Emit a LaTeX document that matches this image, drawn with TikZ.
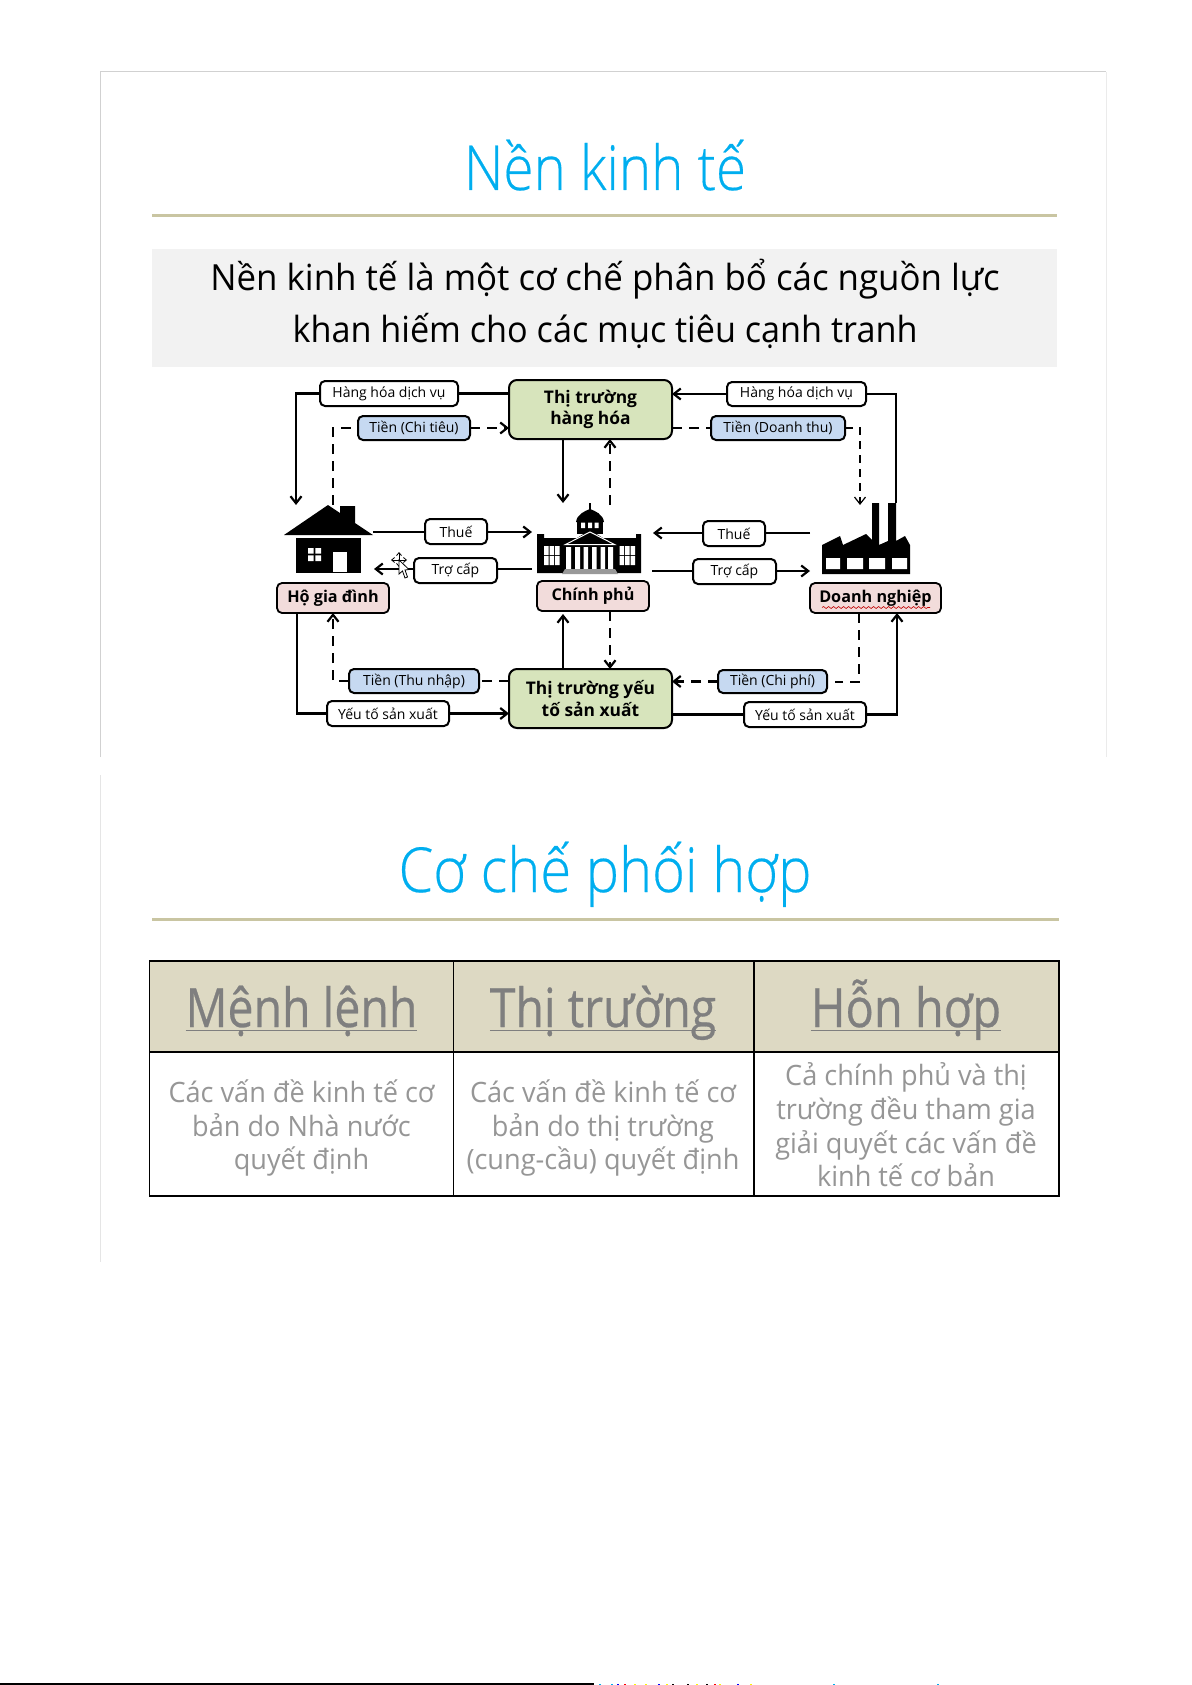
\documentclass[tikz,border=0pt]{standalone}
\usepackage{fontspec}
\usepackage{graphicx}
\setmainfont{Open Sans}
\newfontfamily\lightf[FakeBold=0.35]{Open Sans Light}
\newfontfamily\hfont[FakeBold=0.5]{Open Sans}
\usetikzlibrary{arrows.meta,decorations.pathmorphing}
\definecolor{titleblue}{HTML}{00AEEF}
\definecolor{rulec}{HTML}{C9C5A2}
\definecolor{boxgray}{HTML}{F2F2F2}
\definecolor{mkt}{HTML}{D7E4BC}
\definecolor{agent}{HTML}{F2DCDB}
\definecolor{money}{HTML}{C6D9F1}
\definecolor{thead}{HTML}{DDD9C3}
\definecolor{thtxt}{HTML}{7F7F7F}
\definecolor{tbtxt}{HTML}{969696}
\newcommand\fs[1]{\fontsize{#1}{1.2\dimexpr#1pt\relax}\selectfont}
\newcommand\sx[2]{\scalebox{#1}[1]{#2}}
\newcommand\dn[1]{\raisebox{-0.8pt}{#1}}
\newcommand\bx[7]{\node[#6,minimum width={(#4-#2)*0.5pt},minimum height={(#5-#3)*0.5pt}] (#1) at ({(#2+#4)/2},{(#3+#5)/2}) {#7};}
\newsavebox\ulb
\newcommand\ulin[1]{\sbox\ulb{#1}\rlap{\rule[-2.1pt]{\wd\ulb}{0.5pt}}\usebox\ulb}
\tikzset{
 base/.style={inner sep=0pt,outer sep=0pt,align=center},
 lab/.style={base,draw=black,line width=1pt,rounded corners=2.5pt,fill=white,font=\fs{7}},
 moneybox/.style={lab,fill=money},
 mktbox/.style={base,draw=black,line width=1pt,rounded corners=4pt,fill=mkt,font=\bfseries\fontsize{8.7}{10.9}\selectfont},
 agentbox/.style={base,draw=black,line width=0.9pt,rounded corners=2.5pt,fill=agent,font=\bfseries\fs{8.1}},
 icon/.style={base},
 hcell/.style={base,draw=black,line width=0.6pt,fill=thead},
 htext/.style={base,anchor=base,text=thtxt,font=\hfont\fs{27}},
 bcell/.style={base,draw=black,line width=0.6pt,fill=white},
 btext/.style={base,text=tbtxt,font=\fontsize{14}{16.8}\selectfont},
 solidc/.style={line width=1.1pt,-{Straight Barb[length=3.5pt,width=5.5pt]}},
 plainc/.style={line width=1.1pt},
 dashc/.style={line width=1.1pt,dash pattern=on 5pt off 3.5pt,-{Straight Barb[length=3.5pt,width=5.5pt]}},
 dashp/.style={line width=1.1pt,dash pattern=on 5pt off 3.5pt},
 ttl/.style={base,text=titleblue,anchor=base},
 slideline/.style={line width=0.5pt,draw=black!18},
}
\begin{document}
\begin{tikzpicture}[x=0.5pt,y=-0.5pt]
\useasboundingbox (0,0) rectangle (1191,1685);
% slide frames
\draw[slideline] (100,757) -- (100,72) -- (1106,72);
\draw[slideline,draw=black!8] (1106,72) -- (1106,757);
\draw[slideline,draw=black!10] (100,775) -- (100,1262);
% slide 1 head
\node[ttl,font=\lightf\fs{31}] (t1) at (605,190) {\sx{0.883}{Nền kinh tế}};
\draw[rulec,line width=1.5pt] (152,216) -- (1057,216);
\bx{def}{152}{249}{1057}{367}{base,fill=boxgray}{}
\node[base,font=\fontsize{18}{25.7}\selectfont] (defT) at (605,304) {\sx{0.968}{Nền kinh tế là một cơ chế phân bổ các nguồn lực}\\\sx{0.95}{khan hiếm cho các mục tiêu cạnh tranh}};
% nodes
\bx{mg}{509}{380}{672}{439}{mktbox}{Thị trường\\hàng hóa}
\bx{mf}{509}{669}{672}{728}{mktbox}{Thị trường yếu\\tố sản xuất}
\bx{hh}{277}{583}{389}{613}{agentbox}{\dn{Hộ gia đình}}
\bx{gov}{537}{581}{649}{611}{agentbox}{\dn{Chính phủ}}
\bx{firm}{810}{583}{941}{613}{agentbox}{\dn{Doanh nghiệp}}
\bx{ghL}{320}{381}{458}{406}{lab}{Hàng hóa dịch vụ}
\bx{ghR}{727}{382}{866}{406}{lab}{Hàng hóa dịch vụ}
\bx{mCT}{358}{416}{470}{440}{moneybox}{Tiền (Chi tiêu)}
\bx{mDT}{711}{416}{845}{440}{moneybox}{Tiền (Doanh thu)}
\bx{taxL}{425}{519}{487}{544}{lab}{Thuế}
\bx{taxR}{703}{521}{765}{546}{lab}{Thuế}
\bx{subL}{414}{558}{497}{583}{lab}{Trợ cấp}
\bx{subR}{693}{559}{776}{584}{lab}{Trợ cấp}
\bx{mTN}{349}{669}{479}{693}{moneybox}{\dn{Tiền (Thu nhập)}}
\bx{mCP}{718}{670}{827}{693}{moneybox}{\dn{Tiền (Chi phí)}}
\bx{yL}{327}{701}{449}{726}{lab}{Yếu tố sản xuất}
\bx{yR}{744}{702}{866}{727}{lab}{Yếu tố sản xuất}
\bx{house}{284}{505}{373}{573}{icon}{}
\bx{bld}{538}{503}{641}{573}{icon}{}
\bx{fac}{822}{503}{910}{574}{icon}{}
% free connector ends
\coordinate (hA) at (296,505);
\coordinate (hD) at (333,505);
\coordinate (hT) at (373,532);
\coordinate (hS) at (374,569);
\coordinate (bTL) at (532,532);
\coordinate (bSL) at (532,569);
\coordinate (bTR) at (653,533);
\coordinate (bSR) at (652,571);
\coordinate (fT) at (810,533);
\coordinate (fS) at (810,571);
\coordinate (bG) at (563,503);
\coordinate (bU) at (610,505);
\coordinate (fD) at (860,505);
\coordinate (fU) at (896,503);
% house
\fill[black] (284,535) -- (328,505) -- (340,513) -- (340,506) -- (355,506) -- (355,523) -- (373,535) -- cycle;
\fill[black] (296,538) rectangle (361,573);
\fill[white] (308,548) rectangle (313.7,553.7) (315.3,548) rectangle (321,553.7) (308,555.3) rectangle (313.7,561) (315.3,555.3) rectangle (321,561);
\fill[white] (333,552) rectangle (347,572);
% building
\fill[black] (537,534) -- (544,534) -- (544,538) -- (636,538) -- (636,534) -- (641,534) -- (641,573) -- (537,573) -- cycle;
\fill[white] (544,546) rectangle (548.5,555) (549.5,546) rectangle (554,555) (555,546) rectangle (559.5,555)
 (544,556) rectangle (548.5,565) (549.5,556) rectangle (554,565) (555,556) rectangle (559.5,565);
\fill[white] (619.5,546) rectangle (624,555) (625,546) rectangle (629.5,555) (630.5,546) rectangle (635,555)
 (619.5,556) rectangle (624,565) (625,556) rectangle (629.5,565) (630.5,556) rectangle (635,565);
\fill[black] (577,534) rectangle (603,522);
\fill[black] (576,522) .. controls (577,514) and (585,511) .. (590,509) .. controls (595,511) and (603,514) .. (604,522) -- cycle;
\draw[black,line width=1.1pt] (590,503) -- (590,511);
\fill[white] (581,522.5) rectangle (585,528) (588,522.5) rectangle (592,528) (594.5,522.5) rectangle (598.5,528);
\fill[black] (564,546) -- (590,530) -- (616,546) -- cycle;
\draw[white,line width=0.5pt] (565.5,544.5) -- (590,532) -- (614.5,544.5) -- cycle;
\fill[white] (566,547) rectangle (571,569) (575,547) rectangle (580,569) (583.5,547) rectangle (588,569) (592,547) rectangle (596.5,569) (600.5,547) rectangle (605,569) (608,547) rectangle (613,569);
\fill[black!40] (565,569) -- (615,569) -- (618,574) -- (562,574) -- cycle;
% factory
\fill[black] (822,574) -- (822,545) -- (840,536) -- (843,545) -- (866,534) -- (872,540) -- (872,503) -- (879,503) -- (879,545) -- (888,541) -- (888,503) -- (896,503) -- (896,541) -- (905,536) -- (910,545) -- (910,574) -- cycle;
\fill[white] (826,558) rectangle (840,569) (847,558) rectangle (863,569) (869,558) rectangle (885,569) (892,558) rectangle (907,569);
% connectors
\draw[plainc] (mg.west |- ghL.east) -- (ghL.east);
\draw[solidc] (ghL.west) -| (hA);
\draw[dashp] (hD) |- (mCT.west);
\draw[dashc] (mCT.east) -- (mg.west |- mCT.east);
\draw[solidc] (mg.south -| bG) -- (bG);
\draw[dashc] (bU) -- (mg.south -| bU);
\draw[plainc] (fU) |- (ghR.east);
\draw[solidc] (ghR.west) -- (mg.east |- ghR.west);
\draw[dashp] (mg.east |- mDT.west) -- (mDT.west);
\draw[dashc,line width=0.6pt,dash pattern=on 4pt off 3pt] (mDT.east) -| (fD);
\draw[plainc] (hT) -- (hT -| taxL.west);
\draw[solidc] (bTL -| taxL.east) -- (bTL);
\draw[plainc] (bSL) -- (bSL -| subL.east);
\draw[solidc] (hS -| subL.west) -- (hS);
\draw[plainc] (fT) -- (fT -| taxR.east);
\draw[solidc] (bTR -| taxR.west) -- (bTR);
\draw[plainc] (bSR) -- (bSR -| subR.west);
\draw[solidc] (fS -| subR.east) -- (fS);
\coordinate (gU) at (563,614);
\coordinate (gD) at (610,611);
\draw[solidc] (mf.north -| gU) -- (gU);
\draw[dashc] (gD) -- (mf.north -| gD);
\coordinate (hL) at (333,613);
\draw[dashp] (mf.west |- mTN.east) -- (mTN.east);
\draw[dashc] (mTN.west) -| (hL);
\coordinate (hF) at (297,613);
\draw[plainc] (hF) |- (yL.west);
\draw[solidc] (yL.east) -- (mf.west |- yL.east);
\coordinate (fL) at (859,613);
\coordinate (fLe) at (835,682);
\draw[dashp] (fL) |- (fLe);
\draw[dashc] (mCP.west) -- (mf.east |- mCP.west);
\coordinate (fR) at (897,613);
\draw[plainc] (mf.east |- yR.west) -- (yR.west);
\draw[solidc] (yR.east) -| (fR);
% cursor
\draw[black,line width=0.4pt,{Straight Barb[length=1.5pt,width=2.5pt]}-{Straight Barb[length=1.5pt,width=2.5pt]}] (391,560) -- (407,560);
\draw[black,line width=0.4pt,{Straight Barb[length=1.5pt,width=2.5pt]}-{Straight Barb[length=1.5pt,width=2.5pt]}] (399,552) -- (399,567);
\draw[black,fill=white,line width=0.4pt] (399,560) -- (399,574) -- (402.5,571) -- (405,578) -- (407.5,577) -- (405,570) -- (409,569.5) -- cycle;
% squiggle
\draw[red!75!black,line width=0.3pt,decorate,decoration={snake,amplitude=0.5pt,segment length=2.5pt}] (822,607.5) -- (930,607.5);
% slide 2
\node[ttl,font=\lightf\fs{31}] (t2) at (605,892) {\sx{0.904}{Cơ chế phối hợp}};
\draw[rulec,line width=1.5pt] (152,919) -- (1059,919);
\bx{h1}{149.5}{961}{453.5}{1052}{hcell}{}
\bx{h2}{453.5}{961}{754}{1052}{hcell}{}
\bx{h3}{754}{961}{1059}{1052}{hcell}{}
\node[htext] (h1T) at (301.5,1027) {\sx{0.86}{\ulin{Mệnh lệnh}}};
\node[htext] (h2T) at (603,1027) {\sx{0.86}{\ulin{Thị trường}}};
\node[htext] (h3T) at (906,1027) {\sx{0.87}{\ulin{Hỗn hợp}}};
\bx{b1}{149.5}{1052}{453.5}{1196}{bcell}{}
\bx{b2}{453.5}{1052}{754}{1196}{bcell}{}
\bx{b3}{754}{1052}{1059}{1196}{bcell}{}
\node[btext] (b1T) at (301.5,1128) {\sx{0.968}{Các vấn đề kinh tế cơ}\\\sx{0.968}{bản do Nhà nước}\\\sx{0.968}{quyết định}};
\node[btext] (b2T) at (603,1128) {\sx{0.968}{Các vấn đề kinh tế cơ}\\\sx{0.968}{bản do thị trường}\\\sx{0.968}{(cung-cầu) quyết định}};
\node[btext] (b3T) at (906,1125) {\sx{0.968}{Cả chính phủ và thị}\\\sx{0.968}{trường đều tham gia}\\\sx{0.968}{giải quyết các vấn đề}\\\sx{0.968}{kinh tế cơ bản}};
% page foot
\draw[black,line width=1pt] (0,1684) -- (594,1684);
\foreach \xx/\cc in {599/cyan,611/cyan,617/blue,624/red,634/yellow,645/yellow,658/blue,666/yellow,672/black,687/black,696/yellow,706/black,714/red,719/yellow,737/blue,750/yellow,833/cyan,937/cyan}
  \fill[\cc] (\xx,1684) rectangle ++(1.5,1);
\end{tikzpicture}
\end{document}
